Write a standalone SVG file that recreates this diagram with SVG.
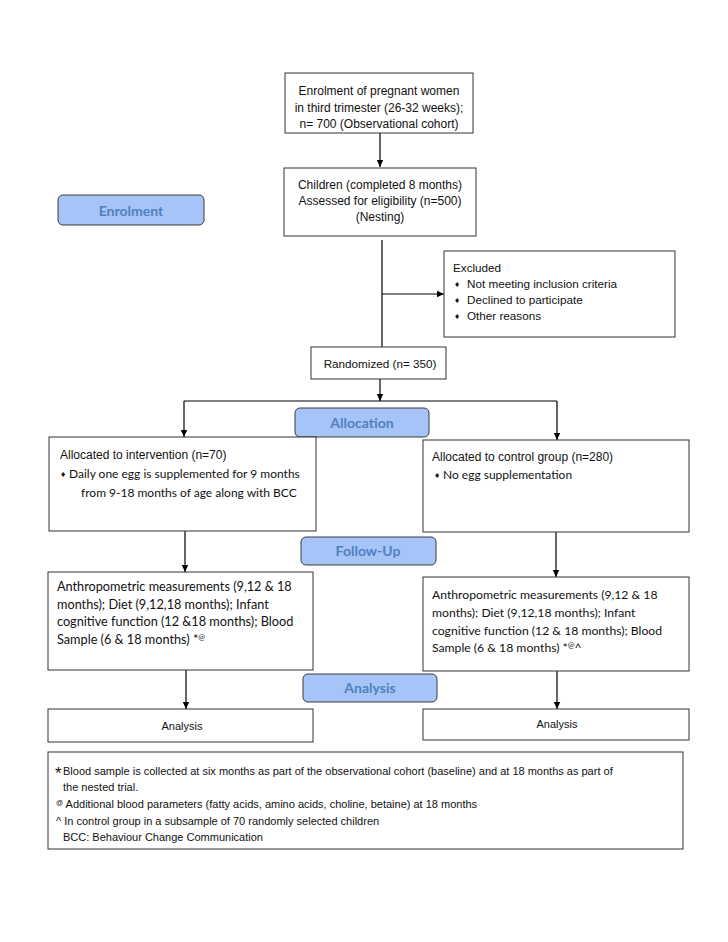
<svg xmlns="http://www.w3.org/2000/svg" width="728" height="942" viewBox="0 0 728 942">
<style>
.box{fill:#fff;stroke:#333;stroke-width:1}
.lab{fill:#a6c4f7;stroke:#3a3a3a;stroke-width:1}
.ar{font-family:"Liberation Sans",Arial,sans-serif;font-size:12px;fill:#111}
.sm{font-family:"Liberation Sans",Arial,sans-serif;font-size:11px;fill:#111}
.ex{font-family:"Liberation Sans",Arial,sans-serif;font-size:11.7px;fill:#111}
.cal{font-family:Lato,"Open Sans",sans-serif;font-size:12px;fill:#111}
.cal2{font-family:Lato,"Open Sans",sans-serif;font-size:12.7px;fill:#111}
.cal3{font-family:Lato,"Open Sans",sans-serif;font-size:12.2px;fill:#111}
.lt{font-family:Lato,"Open Sans",sans-serif;font-size:14px;font-weight:bold;fill:#4f81bd;text-anchor:middle}
.mid{text-anchor:middle}
.bul{font-family:"DejaVu Sans",sans-serif;font-size:7px;fill:#111}
.ln{stroke:#000;stroke-width:1.2;fill:none}
</style>
<defs>
<marker id="ah" markerWidth="8" markerHeight="8" refX="7" refY="4" orient="auto" markerUnits="userSpaceOnUse">
<path d="M0,0.8 L7,4 L0,7.2 Z" fill="#000"/>
</marker>
</defs>
<rect width="728" height="942" fill="#fff"/>

<g id="connectors">
<line class="ln" x1="380" y1="133" x2="380" y2="167" marker-end="url(#ah)"/>
<line class="ln" x1="382" y1="240" x2="382" y2="347"/>
<line class="ln" x1="382" y1="294" x2="444" y2="294" marker-end="url(#ah)"/>
<line class="ln" x1="380" y1="379" x2="380" y2="401" marker-end="url(#ah)"/>
<line class="ln" x1="184" y1="401" x2="557" y2="401"/>
<line class="ln" x1="184" y1="401" x2="184" y2="437" marker-end="url(#ah)"/>
<line class="ln" x1="557" y1="401" x2="557" y2="440" marker-end="url(#ah)"/>
<line class="ln" x1="185" y1="531" x2="185" y2="572" marker-end="url(#ah)"/>
<line class="ln" x1="556" y1="532" x2="556" y2="577" marker-end="url(#ah)"/>
<line class="ln" x1="186" y1="670" x2="186" y2="709" marker-end="url(#ah)"/>
<line class="ln" x1="557" y1="671" x2="557" y2="709" marker-end="url(#ah)"/>
</g>

<g id="enrol-box">
<rect class="box" x="285" y="73" width="188" height="60"/>
<text class="ar mid" x="379" y="95">Enrolment of pregnant women</text>
<text class="ar mid" x="379" y="112">in third trimester (26-32 weeks);</text>
<text class="ar mid" x="379" y="128">n= 700 (Observational cohort)</text>
</g>

<g id="children-box">
<rect class="box" x="284" y="168" width="192" height="68"/>
<text class="ar mid" x="380" y="189">Children (completed 8 months)</text>
<text class="ar mid" x="380" y="205">Assessed for eligibility (n=500)</text>
<text class="ar mid" x="380" y="221">(Nesting)</text>
</g>

<g id="label-enrolment">
<rect class="lab" x="58" y="195" width="146" height="30" rx="5"/>
<text class="lt" x="131" y="216">Enrolment</text>
</g>

<g id="excluded-box">
<rect class="box" x="444" y="251" width="231" height="86"/>
<text class="ex" x="453" y="272">Excluded</text>
<text class="bul" x="454" y="287">♦</text>
<text class="ex" x="467" y="288">Not meeting inclusion criteria</text>
<text class="bul" x="454" y="303">♦</text>
<text class="ex" x="467" y="304">Declined to participate</text>
<text class="bul" x="454" y="319">♦</text>
<text class="ex" x="467" y="320">Other reasons</text>
</g>

<g id="randomized-box">
<rect class="box" x="311" y="347" width="135" height="32"/>
<text class="ex mid" x="380" y="368">Randomized (n= 350)</text>
</g>

<g id="label-allocation">
<rect class="lab" x="295" y="408" width="134" height="29" rx="5"/>
<text class="lt" x="362" y="428">Allocation</text>
</g>

<g id="intervention-box">
<rect class="box" x="49" y="437" width="267" height="94"/>
<text class="ar" x="60" y="459">Allocated to intervention (n=70)</text>
<text class="bul" x="60" y="477">♦</text>
<text class="cal" x="69" y="478">Daily one egg is supplemented for 9 months</text>
<text class="cal" x="81" y="497">from 9-18 months of age along with BCC</text>
</g>

<g id="control-box">
<rect class="box" x="423" y="440" width="266" height="92"/>
<text class="ar" x="432" y="461">Allocated to control group (n=280)</text>
<text class="bul" x="434" y="478">♦</text>
<text class="cal" x="443" y="479">No egg supplementation</text>
</g>

<g id="label-followup">
<rect class="lab" x="301" y="537" width="135" height="28" rx="5"/>
<text class="lt" x="368" y="556">Follow-Up</text>
</g>

<g id="followup-intervention">
<rect class="box" x="48" y="572" width="265" height="98"/>
<text class="cal2" x="57" y="591">Anthropometric measurements (9,12 &amp; 18</text>
<text class="cal2" x="57" y="608.5">months); Diet (9,12,18 months); Infant</text>
<text class="cal2" x="57" y="626">cognitive function (12 &amp;18 months); Blood</text>
<text class="cal2" x="57" y="643.5">Sample (6 &amp; 18 months) *<tspan style="font-size:8px" dy="-4">@</tspan></text>
</g>

<g id="followup-control">
<rect class="box" x="423" y="577" width="266" height="94"/>
<text class="cal3" x="432" y="599">Anthropometric measurements (9,12 &amp; 18</text>
<text class="cal3" x="432" y="617">months); Diet (9,12,18 months); Infant</text>
<text class="cal3" x="432" y="635">cognitive function (12 &amp; 18 months); Blood</text>
<text class="cal3" x="432" y="652">Sample (6 &amp; 18 months) *<tspan style="font-size:8px" dy="-4">@</tspan><tspan dy="4">^</tspan></text>
</g>

<g id="label-analysis">
<rect class="lab" x="303" y="674" width="134" height="28" rx="5"/>
<text class="lt" x="370" y="693">Analysis</text>
</g>

<g id="analysis-intervention">
<rect class="box" x="48" y="709" width="265" height="33"/>
<text class="sm mid" x="182" y="730">Analysis</text>
</g>

<g id="analysis-control">
<rect class="box" x="423" y="709" width="266" height="31"/>
<text class="sm mid" x="557" y="728">Analysis</text>
</g>

<g id="footnote">
<rect class="box" x="48" y="752" width="635" height="97"/>
<text class="ar" x="55" y="779" style="font-size:17px">*</text>
<text class="sm" x="63" y="775">Blood sample is collected at six months as part of the observational cohort (baseline) and at 18 months as part of</text>
<text class="sm" x="63" y="791">the nested trial.</text>
<text class="sm" x="56" y="808"><tspan style="font-size:7px" dy="-3">@</tspan><tspan dy="3"> Additional blood parameters (fatty acids, amino acids, choline, betaine) at 18 months</tspan></text>
<text class="sm" x="56" y="825">^ In control group in a subsample of 70 randomly selected children</text>
<text class="sm" x="63" y="841">BCC: Behaviour Change Communication</text>
</g>
</svg>
